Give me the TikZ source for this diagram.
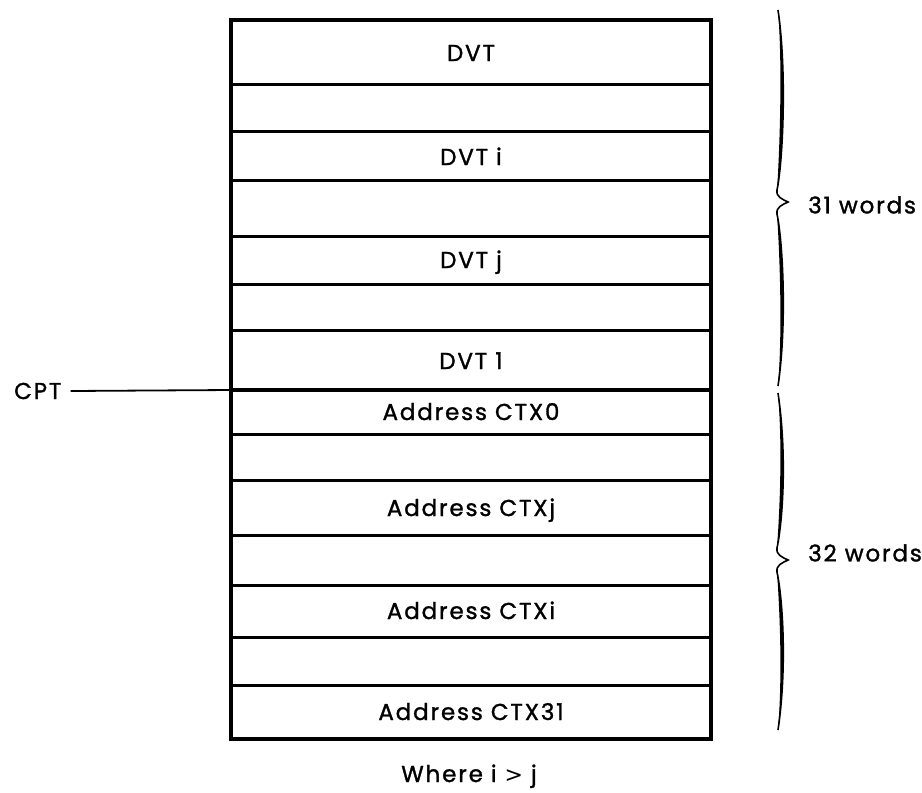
\documentclass[tikz,border=0pt]{standalone}
\usepackage{fontspec}
\setmainfont{Poppins}[LetterSpace=8,FakeBold=1.3]
\newfontfamily\symfont{DejaVu Sans}
\newcommand\mybrace[3]{%
  \draw[line width=1.6pt] (778,#1) .. controls (787,#1+60) and (783,#2-40) .. (777,#2-12)
     .. controls (776,#2-5) and (782,#2-3) .. (788,#2)
     .. controls (782,#2+3) and (776,#2+5) .. (777,#2+12)
     .. controls (783,#2+40) and (787,#3-60) .. (778,#3);
  \fill (778,#1) .. controls (787,#1+60) and (783,#2-40) .. (777,#2-12)
     .. controls (779,#2-40) and (783,#1+60) .. (778,#1) -- cycle;
  \fill (777,#2+12) .. controls (783,#2+40) and (787,#3-60) .. (778,#3)
     .. controls (783,#3-60) and (779,#2+40) .. (777,#2+12) -- cycle;
}
\begin{document}
\begin{tikzpicture}[x=1pt,y=-1pt,
  lbl/.style={font=\fontsize{23}{27}\selectfont, anchor=base, inner sep=0pt},
  side/.style={font=\fontsize{23}{27}\selectfont, anchor=west, inner sep=0pt},
  rowline/.style={line width=3pt},
  frame/.style={line width=4pt}]
\useasboundingbox[fill=white] (0,0) rectangle (922,793);
% rows
\foreach \y in {84,131,180,236,284,330,434,480,535,585,637,685}
  \draw[rowline] (231,\y) -- (711,\y);
\draw[frame] (231,390) -- (711,390);
\draw[frame, line join=miter] (231,20) rectangle (711,739);
% labels
\node[lbl] (dvt)   at (471,61)  {DVT};
\node[lbl] (dvti)  at (471,165) {DVT i};
\node[lbl] (dvtj)  at (471,268) {DVT j};
\node[lbl] (dvt1)  at (471,369) {DVT 1};
\node[lbl] (ctx0)  at (471,420) {Address CTX0};
\node[lbl] (ctxj)  at (471,516) {Address CTXj};
\node[lbl] (ctxi)  at (471,619) {Address CTXi};
\node[lbl] (ctx31) at (471,720) {Address CTX31};
% CPT pointer
\node[side] (cpt) at (14,391) {CPT};
\coordinate (cptend) at (231,390);
\draw[line width=1.8pt] ([xshift=9pt]cpt.east) -- (cptend);
% braces
\mybrace{10}{202}{386}
\mybrace{393}{560}{730}
\node[side] (w31) at (808,205) {31 words};
\node[side] (w32) at (808,553) {32 words};
% footnote
\node[lbl] (where) at (469,782) {Where i {\symfont\fontsize{22}{22}\selectfont >} j};
\end{tikzpicture}
\end{document}
